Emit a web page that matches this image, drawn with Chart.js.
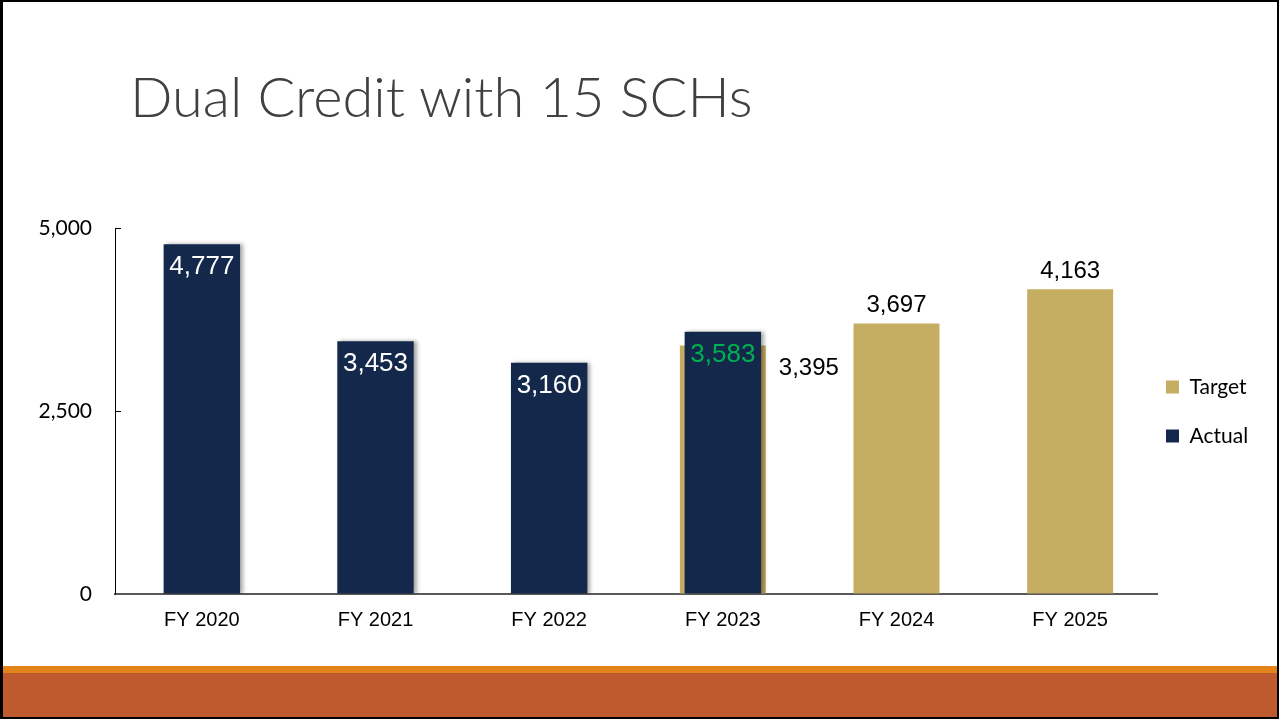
<!DOCTYPE html>
<html>
<head>
<meta charset="utf-8">
<script src="https://cdn.jsdelivr.net/npm/chart.js@4"></script>
<style>
  html, body { margin: 0; padding: 0; background: #fff; }
  #page {
    position: relative; width: 1279px; height: 719px; box-sizing: border-box;
    border: 2px solid #000; border-left-width: 3px; overflow: hidden; background: #fff;
  }
  #title {
    position: absolute; left: 127px; top: 59px; margin: 0;
    font-family: Lato, sans-serif; font-weight: 300; font-size: 56px; line-height: 70px;
    color: #404040; white-space: nowrap;
  }
  #stripe { position: absolute; left: 0; right: 0; top: 664px; height: 7px; background: #E3831A; }
  #band { position: absolute; left: 0; right: 0; top: 671px; bottom: 0; background: #BE5A2D; }
  #chartWrap { position: absolute; left: -3px; top: -2px; width: 1279px; height: 719px; }
</style>
</head>
<body>
<div id="page">
  <h1 id="title">Dual Credit with 15 SCHs</h1>
  <div id="stripe"></div>
  <div id="band"></div>
  <div id="chartWrap"><canvas id="dualChart" width="1279" height="719"></canvas></div>
</div>
<script>
// Chart data
const categories = ['FY 2020', 'FY 2021', 'FY 2022', 'FY 2023', 'FY 2024', 'FY 2025'];
const targetValues = [null, null, null, 3395, 3697, 4163];
const actualValues = [4777, 3453, 3160, 3583, null, null];
const yTicks = [0, 2500, 5000];

const navy = '#14284B';
const gold = '#C5AE62';

// Shadow on the actual bars (right side, like the slide)
const barShadow = {
    id: 'barShadow',
    beforeDatasetDraw(chart, args) {
        if (args.index !== 1) return;
        const ctx = chart.ctx;
        ctx.save();
        ctx.shadowColor = 'rgba(0, 0, 0, 0.35)';
        ctx.shadowOffsetX = 3;
        ctx.shadowOffsetY = 0;
        ctx.shadowBlur = 4;
    },
    afterDatasetDraw(chart, args) {
        if (args.index !== 1) return;
        chart.ctx.restore();
    }
};

// Value labels drawn at the bars
const valueLabels = {
    id: 'valueLabels',
    afterDatasetsDraw(chart) {
        const ctx = chart.ctx;
        ctx.save();
        chart.data.datasets.forEach((ds, di) => {
            const meta = chart.getDatasetMeta(di);
            meta.data.forEach((bar, i) => {
                const v = ds.data[i];
                if (v === null || v === undefined) return;
                const text = v.toLocaleString('en-US');
                ctx.textBaseline = 'middle';
                if (di === 1) {
                    // actual: inside the top of the bar
                    ctx.font = '26px "Liberation Sans", Arial, sans-serif';
                    ctx.fillStyle = i === 3 ? '#00B050' : '#FFFFFF';
                    ctx.textAlign = 'center';
                    ctx.fillText(text, bar.x, bar.y + 23);
                } else if (i === 3) {
                    // target hidden behind actual: label moved to the right
                    ctx.font = '24px "Liberation Sans", Arial, sans-serif';
                    ctx.fillStyle = '#000';
                    ctx.textAlign = 'left';
                    ctx.fillText(text, bar.x + bar.width / 2 + 13, bar.y + 23);
                } else {
                    ctx.font = '24px "Liberation Sans", Arial, sans-serif';
                    ctx.fillStyle = '#000';
                    ctx.textAlign = 'center';
                    ctx.fillText(text, bar.x, bar.y - 18);
                }
            });
        });
        ctx.restore();
    }
};

// Move the legend into the slide's right margin, a little higher
const legendNudge = {
    id: 'legendNudge',
    afterLayout(chart) {
        const lg = chart.legend;
        if (!lg) return;
        lg.left -= 19;
        lg.top -= 22;
        lg.bottom -= 22;
    }
};

const ctx = document.getElementById('dualChart').getContext('2d');
new Chart(ctx, {
    type: 'bar',
    data: {
        labels: categories,
        datasets: [{
            label: 'Target',
            data: targetValues,
            backgroundColor: gold,
            grouped: false,
            order: 1,
            barPercentage: 0.495,
            categoryPercentage: 1
        }, {
            label: 'Actual',
            data: actualValues,
            backgroundColor: navy,
            grouped: false,
            order: 0,
            barPercentage: 0.44,
            categoryPercentage: 1
        }]
    },
    options: {
        responsive: false,
        animation: false,
        layout: {
            padding: { top: 228, left: 35, right: 22, bottom: 80 }
        },
        plugins: {
            tooltip: { enabled: false },
            title: { display: false },
            legend: {
                position: 'right',
                reverse: true,
                maxWidth: 100,
                labels: {
                    boxWidth: 13,
                    boxHeight: 13,
                    padding: 28,
                    color: '#000',
                    font: { family: 'Lato', size: 21 }
                }
            }
        },
        scales: {
            x: {
                grid: { display: false, drawTicks: false },
                border: { display: true, color: '#595959', width: 2 },
                ticks: {
                    color: '#000',
                    padding: 14,
                    maxRotation: 0,
                    font: { family: 'Liberation Sans', size: 20 }
                },
                afterFit(scale) { scale.height = 45; }
            },
            y: {
                min: 0,
                max: 5000,
                afterBuildTicks(scale) { scale.ticks = yTicks.map(v => ({ value: v })); },
                grid: {
                    drawOnChartArea: false,
                    drawTicks: true,
                    tickLength: -6,
                    color: '#000'
                },
                border: { display: true, color: '#000', width: 1 },
                ticks: {
                    color: '#000',
                    padding: 29,
                    font: { family: 'Lato', size: 21 }
                },
                afterFit(scale) { scale.width = 80; }
            }
        }
    },
    plugins: [barShadow, valueLabels, legendNudge]
});
</script>
</body>
</html>
